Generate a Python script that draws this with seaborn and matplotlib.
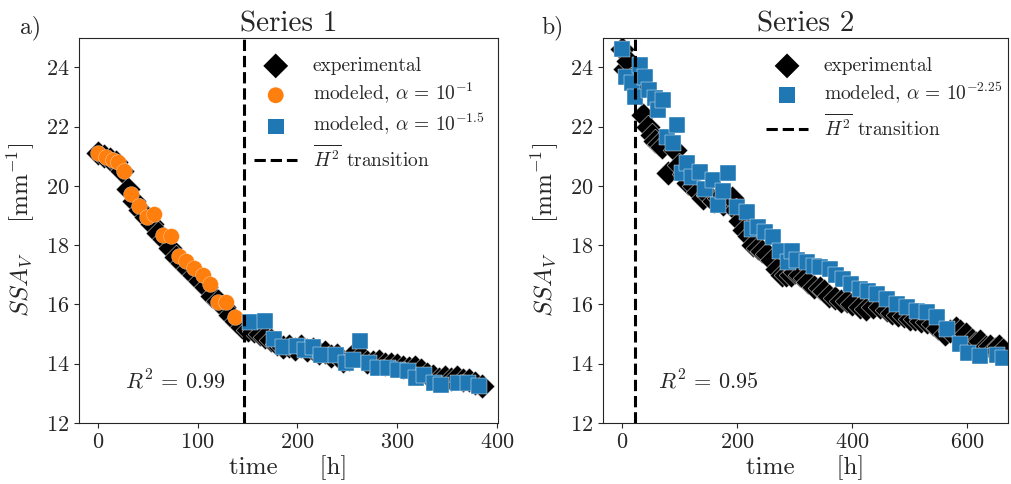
import numpy as np
import pandas as pd
import matplotlib
matplotlib.use("Agg")
import matplotlib.pyplot as plt
import seaborn as sns

# Series 1 - experimental
t1_exp = [0, 6, 12, 18, 24, 30, 36, 42, 48, 54, 60, 66, 72, 78, 84, 90, 96, 102,
          108, 114, 120, 126, 132, 138, 144, 150, 156, 162, 168, 174, 180, 186,
          192, 198, 204, 210, 216, 222, 228, 234, 240, 246, 252, 258, 264, 270,
          276, 282, 288, 294, 300, 306, 312, 318, 324, 330, 336, 342, 348, 354,
          360, 366, 372, 378, 385]
ssa1_exp = [21.1, 21.0, 20.9, 20.8, 20.5, 19.9, 19.5, 19.2, 18.95, 18.7, 18.4,
            18.2, 17.9, 17.6, 17.4, 17.2, 17.0, 16.8, 16.6, 16.3, 16.1, 15.9,
            15.65, 15.45, 15.25, 15.15, 15.1, 15.0, 14.9, 14.8, 14.65, 14.55,
            14.6, 14.5, 14.6, 14.45, 14.5, 14.35, 14.4, 14.25, 14.3, 14.1, 14.15,
            14.35, 14.25, 14.05, 14.05, 14.1, 14.0, 14.0, 13.95, 13.9, 13.85,
            13.9, 13.8, 13.65, 13.6, 13.5, 13.55, 13.5, 13.55, 13.45, 13.45,
            13.35, 13.25]

# Series 1 - modeled, alpha = 10^-1
t1_mod_a = [0, 8, 15, 20, 26, 33, 41, 49, 56, 65, 73, 81, 88, 96, 105, 112,
            120, 128, 137]
ssa1_mod_a = [21.12, 20.98, 20.88, 20.82, 20.51, 19.71, 19.31, 18.94, 19.04,
              18.34, 18.3, 17.63, 17.45, 17.23, 16.99, 16.69, 16.09, 16.09, 15.59]

# Series 1 - modeled, alpha = 10^-1.5
t1_mod_b = [152, 168, 177, 186, 200, 208, 216, 224, 239, 249, 256, 263, 272,
            281, 291, 301, 311, 319, 327, 337, 344, 361, 371, 382]
ssa1_mod_b = [15.42, 15.45, 14.85, 14.58, 14.61, 14.45, 14.58, 14.28, 14.28,
              14.01, 14.11, 14.75, 14.04, 13.84, 13.84, 13.78, 13.74, 13.51,
              13.61, 13.34, 13.27, 13.34, 13.34, 13.24]

# Series 2 - experimental
t2_exp = [0, 5, 10, 16, 26, 37, 45, 52, 57, 64, 70, 80, 92, 100, 108, 115, 125,
          133, 141, 150, 160, 168, 176, 184, 191, 198, 205, 212, 220, 228, 236,
          244, 252, 260, 270, 278, 285, 293, 300, 310, 318, 323, 333, 344, 352,
          360, 370, 380, 391, 400, 414, 425, 436, 449, 460, 470, 480, 490, 500,
          510, 520, 530, 540, 550, 562, 570, 580, 588, 598, 608, 615, 623, 632,
          640, 648, 655, 662]
ssa2_exp = [24.6, 23.95, 24.2, 23.6, 23.3, 22.4, 22.0, 21.7, 21.5, 21.4, 21.3,
            20.45, 21.2, 20.7, 20.4, 20.1, 20.0, 19.8, 19.6, 19.7, 19.5, 19.6,
            19.4, 19.5, 19.6, 19.2, 18.8, 18.5, 18.3, 18.0, 17.9, 17.8, 17.7,
            17.5, 17.2, 17.0, 17.0, 17.0, 17.1, 17.0, 16.9, 16.75, 16.6, 16.55,
            16.45, 16.3, 16.2, 16.1, 16.1, 16.0, 15.9, 15.85, 15.9, 15.9, 15.8,
            15.7, 15.65, 15.6, 15.5, 15.5, 15.45, 15.4, 15.35, 15.2, 15.0, 15.1,
            15.2, 15.1, 15.0, 14.8, 14.7, 14.75, 14.55, 14.6, 14.5, 14.6, 14.45]

# Series 2 - modeled, alpha = 10^-2.25
t2_mod = [0, 7, 17, 23, 31, 40, 47, 57, 63, 71, 78, 89, 96, 104, 113, 122, 136,
          144, 158, 167, 176, 184, 200, 217, 226, 236, 249, 263, 275, 289, 296,
          305, 322, 333, 344, 362, 372, 384, 398, 414, 428, 443, 461, 478, 496,
          513, 530, 548, 565, 588, 602, 623, 652, 663]
ssa2_mod = [24.6, 23.67, 23.47, 23.0, 24.07, 23.67, 23.23, 22.96, 22.56, 22.9,
            21.65, 21.45, 22.06, 20.45, 20.78, 20.31, 20.48, 19.88, 20.21, 19.37,
            19.81, 20.45, 19.27, 19.11, 18.54, 18.6, 18.44, 18.27, 17.8, 17.43,
            17.8, 17.5, 17.43, 17.3, 17.26, 17.2, 17.0, 16.86, 16.7, 16.53,
            16.45, 16.36, 16.19, 16.02, 15.92, 15.79, 15.75, 15.59, 15.18, 14.68,
            14.35, 14.25, 14.28, 14.18]

transition1 = 146
transition2 = 22.5
r2_values = [0.99, 0.95]

sns.set_style("ticks")
plt.rcParams['font.family'] = 'serif'
plt.rcParams['font.serif'] = ['cmr10', 'DejaVu Serif']
plt.rcParams['mathtext.fontset'] = 'cm'
plt.rcParams['axes.unicode_minus'] = False
plt.rcParams['axes.formatter.use_mathtext'] = True

blue = '#1f77b4'
orange = '#ff7f0e'
s_dia = 160
s_mk = 130

fig = plt.figure(figsize=(10.11, 4.84), dpi=100)
ax1 = fig.add_axes([0.0781, 0.126, 0.4144, 0.7963])
ax2 = fig.add_axes([0.5964, 0.126, 0.4006, 0.7963])

# panel a
sns.scatterplot(x=t1_exp, y=ssa1_exp, marker='D', color='black', s=s_dia,
                linewidth=0.3, ax=ax1, label='experimental')
sns.scatterplot(x=t1_mod_a, y=ssa1_mod_a, marker='o', color=orange, s=s_mk,
                linewidth=0.2, ax=ax1, label=r'modeled, $\alpha\,=\,10^{-1}$')
sns.scatterplot(x=t1_mod_b, y=ssa1_mod_b, marker='s', color=blue, s=s_mk,
                linewidth=0.3, ax=ax1, label=r'modeled, $\alpha\,=\,10^{-1.5}$')
ax1.axvline(transition1, color='black', ls='--', lw=2.2,
            label=r'$\overline{H^2}$ transition')
ax1.set_xlim(-19, 401)
ax1.set_xticks([0, 100, 200, 300, 400])

# panel b
sns.scatterplot(x=t2_exp, y=ssa2_exp, marker='D', color='black', s=s_dia,
                linewidth=0.3, ax=ax2, label='experimental')
sns.scatterplot(x=t2_mod, y=ssa2_mod, marker='s', color=blue, s=s_mk,
                linewidth=0.3, ax=ax2, label=r'modeled, $\alpha\,=\,10^{-2.25}$')
ax2.axvline(transition2, color='black', ls='--', lw=2.2,
            label=r'$\overline{H^2}$ transition')
ax2.set_xlim(-33, 671)
ax2.set_xticks([0, 200, 400, 600])

for ax, title, r2, tx, anchor in [(ax1, 'Series 1', r2_values[0], 0.23, (1.0, 0.985)),
                                  (ax2, 'Series 2', r2_values[1], 0.26, (1.02, 0.985))]:
    ax.set_ylim(12, 25)
    ax.set_yticks([12, 14, 16, 18, 20, 22, 24])
    ax.set_title(title, fontsize=21, pad=4)
    ax.set_xlabel(r'time     [h]', fontsize=18, labelpad=2)
    ax.set_ylabel(r'$SSA_V$    [mm$^{-1}$]', fontsize=18, labelpad=6)
    ax.tick_params(labelsize=16)
    ax.text(tx, 0.11, r'$R^2\,=\,%.2f$' % r2, transform=ax.transAxes,
            fontsize=16, ha='center', va='center')
    leg = ax.legend(loc='upper right', frameon=False, fontsize=14,
                    borderaxespad=0.3, handletextpad=0.8, labelspacing=0.32,
                    handlelength=2.2, bbox_to_anchor=anchor)
    for h in leg.legend_handles:
        if hasattr(h, 'set_edgecolor') and not hasattr(h, 'get_xdata'):
            h.set_edgecolor('none')

fig.text(0.02, 0.93, 'a)', fontsize=17)
fig.text(0.535, 0.93, 'b)', fontsize=17)

fig.savefig('out.png', dpi=100)
